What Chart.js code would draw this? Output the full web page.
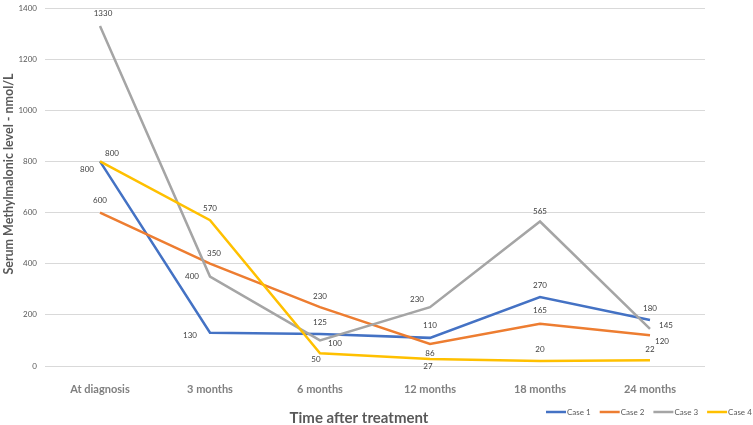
<!DOCTYPE html>
<html>
<head>
<meta charset="utf-8">
<script src="https://cdn.jsdelivr.net/npm/chart.js@4.4.1/dist/chart.umd.min.js"></script>
<style>
  html, body { margin: 0; padding: 0; background: #fff; }
  #wrap { width: 753px; height: 425px; }
</style>
</head>
<body>
<div id="wrap"><canvas id="mma-chart"></canvas></div>
<script>
const categories = ["At diagnosis", "3 months", "6 months", "12 months", "18 months", "24 months"];
const seriesNames = ["Case 1", "Case 2", "Case 3", "Case 4"];
const case1 = [800, 130, 125, 110, 270, 180];
const case2 = [600, 400, 230, 86, 165, 120];
const case3 = [1330, 350, 100, 230, 565, 145];
const case4 = [800, 570, 50, 27, 20, 22];
const yTicks = [0, 200, 400, 600, 800, 1000, 1200, 1400];
const xTitle = "Time after treatment";
const yTitle = "Serum Methylmalonic level - nmol/L";

const colors = ["#4472C4", "#ED7D31", "#A5A5A5", "#FFC000"];

// where each value label sits relative to its point (dx, dy in px)
const labelOffsets = [
  [[-13, 8], [-20, 3], [0, -12], [0, -12], [0, -12], [0, -12]],
  [[0, -12], [-18, 13], [0, -11], [0, 9], [0, -13], [12, 6]],
  [[3, -12], [4, -23], [15, 3], [-13, -8], [0, -10], [16, -3]],
  [[12, -8], [0, -12], [-4, 6], [-2, 7], [0, -11], [0, -11]],
];

const FONT = "Lato, 'Open Sans', sans-serif";

const valueLabels = {
  id: "valueLabels",
  afterDatasetsDraw(chart) {
    const ctx = chart.ctx;
    ctx.save();
    ctx.font = `8px ${FONT}`;
    ctx.fillStyle = "#404040";
    ctx.textAlign = "center";
    ctx.textBaseline = "middle";
    chart.data.datasets.forEach((ds, i) => {
      const meta = chart.getDatasetMeta(i);
      meta.data.forEach((pt, j) => {
        const [dx, dy] = labelOffsets[i][j];
        ctx.fillText(String(ds.data[j]), pt.x + dx, pt.y + dy);
      });
    });
    ctx.restore();
  },
};

// axis titles drawn by hand, Excel places them a bit off-centre
const axisTitles = {
  id: "axisTitles",
  afterDraw(chart) {
    const ctx = chart.ctx;
    ctx.save();
    ctx.fillStyle = "#595959";
    ctx.textAlign = "center";
    ctx.textBaseline = "middle";
    ctx.font = `bold 15px ${FONT}`;
    ctx.fillText(xTitle, 359, 418);
    ctx.translate(9, 174);
    ctx.rotate(-Math.PI / 2);
    ctx.font = `bold 12.5px ${FONT}`;
    ctx.fillText(yTitle, 0, 0);
    ctx.restore();
  },
};

const bottomLegend = {
  id: "bottomLegend",
  afterDraw(chart) {
    const ctx = chart.ctx;
    ctx.save();
    ctx.font = `8px ${FONT}`;
    ctx.textBaseline = "middle";
    ctx.textAlign = "left";
    let x = 546;
    const y = 412;
    chart.data.datasets.forEach((ds) => {
      ctx.strokeStyle = ds.borderColor;
      ctx.lineWidth = 2.5;
      ctx.beginPath();
      ctx.moveTo(x, y);
      ctx.lineTo(x + 20, y);
      ctx.stroke();
      ctx.fillStyle = "#595959";
      ctx.fillText(ds.label, x + 21, y);
      x += 21 + ctx.measureText(ds.label).width + 9;
    });
    ctx.restore();
  },
};

const seriesData = [case1, case2, case3, case4];

const data = {
  labels: categories,
  datasets: seriesData.map((values, i) => ({
    label: seriesNames[i],
    data: values,
    borderColor: colors[i],
    backgroundColor: colors[i],
    borderWidth: 2.5,
    pointRadius: 0,
    tension: 0,
    order: seriesData.length - i,
  })),
};

const config = {
  type: "line",
  data: data,
  options: {
    responsive: true,
    maintainAspectRatio: false,
    animation: false,
    layout: { padding: { top: 8, right: 48, bottom: 0, left: 0 } },
    plugins: {
      legend: { display: false },
      tooltip: { enabled: false },
    },
    scales: {
      x: {
        offset: true,
        grid: { display: false, drawTicks: false },
        border: { display: false },
        ticks: {
          padding: 17,
          color: "#7F7F7F",
          font: { family: FONT, size: 11, weight: "bold" },
        },
        afterFit: (scale) => { scale.height = 59; },
      },
      y: {
        min: 0,
        max: 1400,
        afterBuildTicks: (scale) => {
          scale.ticks = yTicks.map((v) => ({ value: v }));
        },
        grid: {
          color: "#D9D9D9",
          lineWidth: 1,
          drawTicks: true,
          tickLength: 8,
          tickColor: "rgba(0,0,0,0)",
        },
        border: { display: false },
        ticks: {
          padding: 0,
          color: "#595959",
          font: { family: FONT, size: 8 },
          callback: (value) => String(value),
        },
        afterFit: (scale) => { scale.width = 45; },
      },
    },
  },
  plugins: [valueLabels, axisTitles, bottomLegend],
};

new Chart(document.querySelector("#mma-chart"), config);
</script>
</body>
</html>
